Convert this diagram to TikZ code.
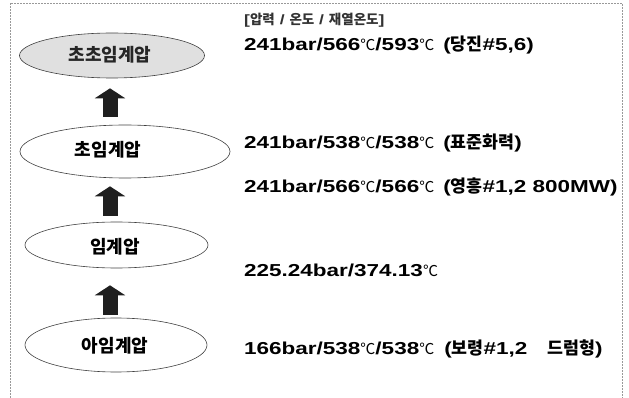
\documentclass[tikz,border=0pt]{standalone}
\usepackage{fontspec}
\setmainfont{Liberation Sans}[FakeStretch=1.3]
\newfontfamily\kr{Noto Sans CJK KR}
\usetikzlibrary{shapes.geometric,arrows.meta}
\newcommand{\Kb}[1]{{\kr\bfseries #1}}
\newcommand{\CelsSym}{{\kr\mdseries\fontsize{15}{15}\selectfont ℃}}
\tikzset{
  ell/.style={ellipse, draw=black!75, line width=0.6pt, inner sep=0pt},
  lab/.style={font=\fontsize{18}{18}\selectfont\kr\bfseries, inner sep=0pt},
  data/.style={anchor=west, inner sep=0pt, font=\fontsize{17.3}{19}\selectfont\bfseries},
  hdr/.style={anchor=west, inner sep=0pt, font=\fontsize{13.5}{15}\selectfont\bfseries, text=black!80},
  uparr/.style={line width=15pt, draw=black!88, -{Triangle[length=10pt,width=30pt]}},
  framestyle/.style={draw=black!40, line width=0.7pt, dash pattern=on 2pt off 1pt},
}
\begin{document}
\begin{tikzpicture}[x=1pt,y=-1pt]
\useasboundingbox (0,0) rectangle (629,398);
\draw[framestyle] (10,398) -- (10,3) -- (622,3) -- (622,398);

% ellipses
\node[ell, fill=black!12, minimum width=185pt, minimum height=45pt] (e1) at (112,55.5) {};
\node[ell, minimum width=210pt, minimum height=53pt] (e2) at (125,151.5) {};
\node[ell, minimum width=183pt, minimum height=46pt] (e3) at (116.5,245) {};
\node[ell, minimum width=182pt, minimum height=54pt] (e4) at (116,345) {};

\node[lab, text=black!85] (l1) at (110,55) {초초임계압};
\node[lab] (l2) at (108,150) {초임계압};
\node[lab] (l3) at (115,247) {임계압};
\node[lab] (l4) at (115,346) {아임계압};

% arrows
\coordinate (ax) at (110,0);
\draw[uparr, shorten <=8pt, shorten >=10pt] (ax |- e2.north) -- (ax |- e1.south);
\draw[uparr, shorten <=6pt, shorten >=8pt] (ax |- e3.north) -- (ax |- e2.south);
\draw[uparr, shorten <=3pt, shorten >=17pt] (ax |- e4.north) -- (ax |- e3.south);

% texts
\node[hdr] (h) at (244,20) {[\Kb{압력} / \Kb{온도} / \Kb{재열온도}]};
\node[data] (d1) at (244,45) {241bar/566\CelsSym/593\CelsSym\hspace{9pt}(\Kb{당진}\#5,6)};
\node[data] (d2) at (244,143) {241bar/538\CelsSym/538\CelsSym\hspace{9pt}(\Kb{표준화력})};
\node[data] (d3) at (244,187) {241bar/566\CelsSym/566\CelsSym\hspace{9pt}(\Kb{영흥}\#1,2 800MW)};
\node[data] (d4) at (244,270) {225.24bar/374.13\CelsSym};
\node[data] (d5) at (244,349) {166bar/538\CelsSym/538\CelsSym\hspace{10pt}(\Kb{보령}\#1,2\hspace{20pt}\Kb{드럼형})};
\end{tikzpicture}
\end{document}
